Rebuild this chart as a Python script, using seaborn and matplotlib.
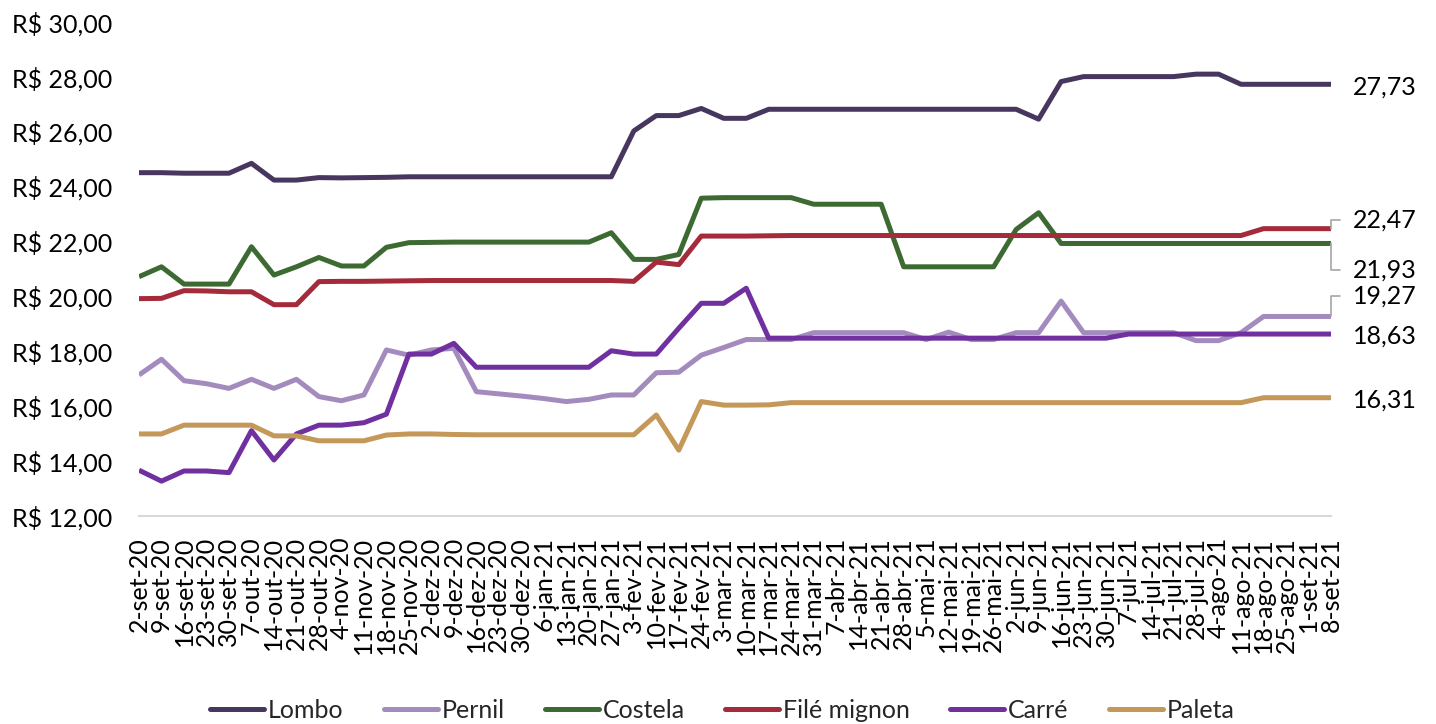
import numpy as np
import pandas as pd
import matplotlib
matplotlib.use("Agg")
import matplotlib.pyplot as plt
from matplotlib.ticker import FuncFormatter, FixedLocator
import seaborn as sns

# ---------------- data ----------------
dates = ["2-set-20", "9-set-20", "16-set-20", "23-set-20", "30-set-20", "7-out-20", "14-out-20",
         "21-out-20", "28-out-20", "4-nov-20", "11-nov-20", "18-nov-20", "25-nov-20", "2-dez-20",
         "9-dez-20", "16-dez-20", "23-dez-20", "30-dez-20", "6-jan-21", "13-jan-21", "20-jan-21",
         "27-jan-21", "3-fev-21", "10-fev-21", "17-fev-21", "24-fev-21", "3-mar-21", "10-mar-21",
         "17-mar-21", "24-mar-21", "31-mar-21", "7-abr-21", "14-abr-21", "21-abr-21", "28-abr-21",
         "5-mai-21", "12-mai-21", "19-mai-21", "26-mai-21", "2-jun-21", "9-jun-21", "16-jun-21",
         "23-jun-21", "30-jun-21", "7-jul-21", "14-jul-21", "21-jul-21", "28-jul-21", "4-ago-21",
         "11-ago-21", "18-ago-21", "25-ago-21", "1-set-21", "8-set-21"]

lombo = [24.51, 24.51, 24.49, 24.49, 24.49, 24.85, 24.24, 24.24, 24.33, 24.32,
         24.33, 24.34, 24.36, 24.36, 24.36, 24.36, 24.36, 24.36, 24.36, 24.36,
         24.36, 24.36, 26.03, 26.59, 26.59, 26.85, 26.49, 26.49, 26.82, 26.82,
         26.82, 26.82, 26.82, 26.82, 26.82, 26.82, 26.82, 26.82, 26.82, 26.82,
         26.46, 27.83, 28.01, 28.01, 28.01, 28.01, 28.01, 28.10, 28.10, 27.73,
         27.73, 27.73, 27.73, 27.73]

pernil = [17.14, 17.71, 16.93, 16.82, 16.65, 16.98, 16.65, 16.98, 16.35, 16.20,
          16.41, 18.05, 17.86, 18.05, 18.11, 16.53, 16.45, 16.37, 16.28, 16.17,
          16.25, 16.41, 16.41, 17.22, 17.24, 17.86, 18.14, 18.43, 18.43, 18.43,
          18.68, 18.68, 18.68, 18.68, 18.68, 18.43, 18.70, 18.43, 18.43, 18.68,
          18.68, 19.83, 18.68, 18.68, 18.68, 18.68, 18.68, 18.39, 18.39, 18.68,
          19.27, 19.27, 19.27, 19.27]

costela = [20.72, 21.08, 20.45, 20.45, 20.45, 21.81, 20.78, 21.08, 21.42, 21.11,
           21.11, 21.79, 21.96, 21.97, 21.98, 21.98, 21.98, 21.98, 21.98, 21.98,
           21.98, 22.32, 21.35, 21.35, 21.53, 23.58, 23.60, 23.60, 23.60, 23.60,
           23.36, 23.36, 23.36, 23.36, 21.08, 21.08, 21.08, 21.08, 21.08, 22.44,
           23.05, 21.93, 21.93, 21.93, 21.93, 21.93, 21.93, 21.93, 21.93, 21.93,
           21.93, 21.93, 21.93, 21.93]

file_mignon = [19.92, 19.93, 20.21, 20.20, 20.17, 20.17, 19.70, 19.70, 20.54, 20.55,
               20.55, 20.56, 20.57, 20.58, 20.58, 20.58, 20.58, 20.58, 20.58, 20.58,
               20.58, 20.58, 20.55, 21.25, 21.16, 22.20, 22.20, 22.20, 22.21, 22.22,
               22.22, 22.22, 22.22, 22.22, 22.22, 22.22, 22.22, 22.22, 22.22, 22.22,
               22.22, 22.22, 22.22, 22.22, 22.22, 22.22, 22.22, 22.22, 22.22, 22.22,
               22.47, 22.47, 22.47, 22.47]

carre = [13.67, 13.27, 13.64, 13.64, 13.58, 15.11, 14.04, 14.99, 15.31, 15.31,
         15.40, 15.71, 17.90, 17.90, 18.29, 17.42, 17.42, 17.42, 17.42, 17.42,
         17.42, 18.02, 17.90, 17.90, 18.84, 19.75, 19.75, 20.30, 18.48, 18.48,
         18.48, 18.48, 18.48, 18.48, 18.48, 18.48, 18.48, 18.48, 18.48, 18.48,
         18.48, 18.48, 18.48, 18.48, 18.63, 18.63, 18.63, 18.63, 18.63, 18.63,
         18.63, 18.63, 18.63, 18.63]

paleta = [14.99, 14.99, 15.31, 15.31, 15.31, 15.31, 14.92, 14.92, 14.74, 14.74,
          14.74, 14.95, 14.99, 14.99, 14.97, 14.96, 14.96, 14.96, 14.96, 14.96,
          14.96, 14.96, 14.96, 15.68, 14.40, 16.17, 16.04, 16.04, 16.05, 16.13,
          16.13, 16.13, 16.13, 16.13, 16.13, 16.13, 16.13, 16.13, 16.13, 16.13,
          16.13, 16.13, 16.13, 16.13, 16.13, 16.13, 16.13, 16.13, 16.13, 16.13,
          16.31, 16.31, 16.31, 16.31]

series_names = ["Lombo", "Pernil", "Costela", "Filé mignon", "Carré", "Paleta"]
series_values = [lombo, pernil, costela, file_mignon, carre, paleta]
colors = ["#47375F", "#A48BBE", "#3D6A32", "#A52A3A", "#7030A0", "#C49859"]

y_ticks = [12, 14, 16, 18, 20, 22, 24, 26, 28, 30]

# ---------------- build long table ----------------
rows = []
for name, vals in zip(series_names, series_values):
    for i, v in enumerate(vals):
        rows.append({"idx": i, "Data": dates[i], "Preço": v, "Corte": name})
df = pd.DataFrame(rows)

# ---------------- style ----------------
sns.set_theme(style="white")
plt.rcParams["font.family"] = ["Lato", "DejaVu Sans"]
FS = 18

fig = plt.figure(figsize=(14.36, 7.24), dpi=100)
ax = fig.add_axes([139 / 1436, 1 - 516 / 724, (1331 - 139) / 1436, (516 - 22) / 724])

sns.lineplot(data=df, x="idx", y="Preço", hue="Corte", hue_order=series_names,
             palette=dict(zip(series_names, colors)), linewidth=3.6, sort=False,
             ax=ax, legend=True)
for ln in ax.get_lines():
    ln.set_solid_capstyle("butt")
    ln.set_solid_joinstyle("round")

ax.set_xlim(0, len(dates) - 1)
ax.set_ylim(12, 30)
ax.xaxis.set_major_locator(FixedLocator(range(len(dates))))
ax.set_xticklabels(dates, rotation=90, fontsize=FS, color="black")
ax.set_yticks(y_ticks)
ax.yaxis.set_major_formatter(FuncFormatter(lambda v, p: "R$ " + f"{v:.2f}".replace(".", ",")))
ax.tick_params(axis="x", length=0, pad=15)
ax.tick_params(axis="y", length=0, pad=19, labelsize=FS, labelcolor="black")
ax.set_xlabel("")
ax.set_ylabel("")
for s in ["left", "right", "top"]:
    ax.spines[s].set_visible(False)
ax.spines["bottom"].set_color("#D9D9D9")
ax.spines["bottom"].set_linewidth(1.5)
ax.grid(False)

# ---------------- end labels ----------------
last = len(dates) - 1
label_offsets = [-2, 14.8, -19.2, 6, -1.5, -1.7]
leader = [False, True, True, True, False, False]
for vals, dy, use_leader in zip(series_values, label_offsets, leader):
    v = vals[-1]
    txt = f"{v:.2f}".replace(".", ",")
    kw = {}
    if use_leader:
        kw["arrowprops"] = dict(arrowstyle="-", color="#A6A6A6", lw=1.2,
                                connectionstyle="angle,angleA=0,angleB=90,rad=0",
                                relpos=(0, 0.5), shrinkA=7, shrinkB=0)
    ax.annotate(txt, xy=(last, v), xytext=(16, dy), textcoords="offset points",
                ha="left", va="center", fontsize=FS, color="black",
                annotation_clip=False, **kw)

# ---------------- legend ----------------
handles, labels = ax.get_legend_handles_labels()
ax.get_legend().remove()
for h in handles:
    h.set_linewidth(3.6)
    h.set_solid_capstyle("round")
fig.legend(handles, labels, loc="center", bbox_to_anchor=(0.503, 14 / 724), ncol=6,
           frameon=False, fontsize=FS, handlelength=2.16, handletextpad=0.15,
           columnspacing=1.62)

fig.savefig("out.png", dpi=100)
